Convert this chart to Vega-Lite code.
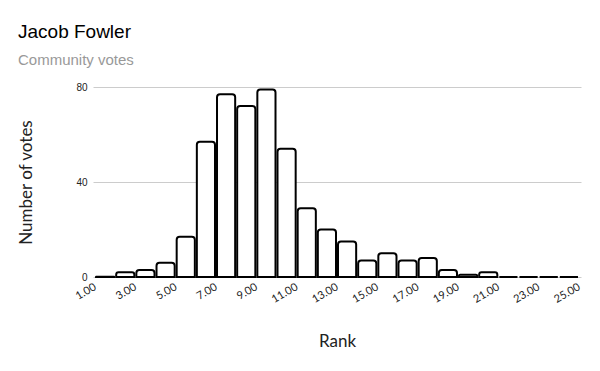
{
  "$schema": "https://vega.github.io/schema/vega-lite/v6.json",
  "width": 488,
  "height": 190,
  "autosize": "none",
  "padding": {"left": 93, "top": 87, "right": 19, "bottom": 94},
  "background": "white",
  "title": {
    "text": "Jacob Fowler",
    "subtitle": "Community votes",
    "anchor": "start",
    "frame": "group",
    "dx": -75,
    "offset": 14,
    "font": "Liberation Sans",
    "fontSize": 19,
    "fontWeight": "normal",
    "color": "#000000",
    "subtitleFont": "Liberation Sans",
    "subtitleFontSize": 15,
    "subtitleColor": "#999999",
    "subtitlePadding": 11
  },
  "data": {
    "values": [
      {"rank": 1, "rank_end": 2, "votes": 0.1},
      {"rank": 2, "rank_end": 3, "votes": 2},
      {"rank": 3, "rank_end": 4, "votes": 3},
      {"rank": 4, "rank_end": 5, "votes": 6},
      {"rank": 5, "rank_end": 6, "votes": 17},
      {"rank": 6, "rank_end": 7, "votes": 57},
      {"rank": 7, "rank_end": 8, "votes": 77},
      {"rank": 8, "rank_end": 9, "votes": 72},
      {"rank": 9, "rank_end": 10, "votes": 79},
      {"rank": 10, "rank_end": 11, "votes": 54},
      {"rank": 11, "rank_end": 12, "votes": 29},
      {"rank": 12, "rank_end": 13, "votes": 20},
      {"rank": 13, "rank_end": 14, "votes": 15},
      {"rank": 14, "rank_end": 15, "votes": 7},
      {"rank": 15, "rank_end": 16, "votes": 10},
      {"rank": 16, "rank_end": 17, "votes": 7},
      {"rank": 17, "rank_end": 18, "votes": 8},
      {"rank": 18, "rank_end": 19, "votes": 3},
      {"rank": 19, "rank_end": 20, "votes": 1},
      {"rank": 20, "rank_end": 21, "votes": 2},
      {"rank": 21, "rank_end": 22, "votes": 0},
      {"rank": 22, "rank_end": 23, "votes": 0},
      {"rank": 23, "rank_end": 24, "votes": 0},
      {"rank": 24, "rank_end": 25, "votes": 0}
    ]
  },
  "mark": {
    "type": "bar",
    "fill": "white",
    "stroke": "black",
    "strokeWidth": 2,
    "cornerRadiusTopLeft": 3,
    "cornerRadiusTopRight": 3,
    "xOffset": 1,
    "x2Offset": -1
  },
  "encoding": {
    "x": {
      "field": "rank",
      "type": "quantitative",
      "scale": {"domain": [0.9, 25.1], "nice": false, "zero": false},
      "axis": {
        "title": "Rank",
        "values": [1, 3, 5, 7, 9, 11, 13, 15, 17, 19, 21, 23, 25],
        "format": ".2f",
        "labelAngle": -30,
        "labelAlign": "right",
        "labelBaseline": "middle",
        "labelFont": "Lato",
        "labelFontSize": 11,
        "labelColor": "#222222",
        "labelPadding": 9,
        "labelOverlap": false,
        "domain": false,
        "ticks": false,
        "grid": false,
        "titleFont": "Lato",
        "titleFontSize": 17,
        "titleFontWeight": "normal",
        "titleColor": "#222222",
        "titlePadding": 29
      }
    },
    "x2": {"field": "rank_end"},
    "y": {
      "field": "votes",
      "type": "quantitative",
      "stack": null,
      "scale": {"domain": [0, 80], "nice": false},
      "axis": {
        "title": "Number of votes",
        "values": [0, 40, 80],
        "labelFont": "Liberation Sans",
        "labelFontSize": 10,
        "labelColor": "#222222",
        "labelPadding": 6,
        "domain": false,
        "ticks": false,
        "grid": true,
        "gridColor": "#cccccc",
        "gridWidth": 1,
        "titleFont": "Lato",
        "titleFontSize": 17,
        "titleFontWeight": "normal",
        "titleColor": "#222222",
        "titlePadding": 40
      }
    },
    "y2": {"datum": 0}
  },
  "config": {"view": {"stroke": null}}
}
